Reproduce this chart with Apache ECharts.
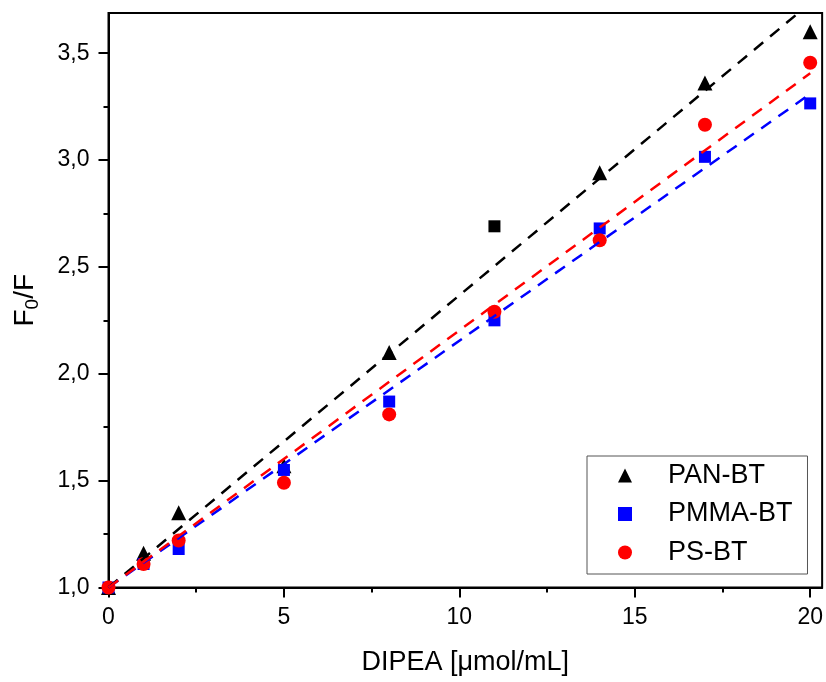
<!DOCTYPE html>
<html>
<head>
<meta charset="utf-8">
<script src="https://cdn.jsdelivr.net/npm/echarts@6/dist/echarts.min.js"></script>
<style>
  html, body { margin: 0; padding: 0; background: #fff; }
  #chart { width: 826px; height: 682px; }
</style>
</head>
<body>
<div id="chart"></div>
<script>
// DIPEA concentration [µmol/mL]
const dipea = [0, 1, 2, 5, 8, 11, 14, 17, 20];

// Quenching ratio F0/F for each sensor film
const panBT  = [1.00, 1.16, 1.35, 1.57, 2.10, 2.69, 2.94, 3.36, 3.60];
const pmmaBT = [1.00, 1.11, 1.18, 1.55, 1.87, 2.25, 2.68, 3.015, 3.265];
const psBT   = [1.00, 1.11, 1.22, 1.49, 1.81, 2.29, 2.625, 3.165, 3.455];

// Tick positions
const xMajorTicks = [0, 5, 10, 15, 20];
const xMinorTicks = [2.5, 7.5, 12.5, 17.5];
const yMajorTicks = [1.0, 1.5, 2.0, 2.5, 3.0, 3.5];
const yMinorTicks = [1.25, 1.75, 2.25, 2.75, 3.25];

const FONT = '"Liberation Sans", Arial, sans-serif';

// Stern–Volmer fit through (0, 1): F0/F = 1 + K·[Q]
function svLine(ys) {
  let sxy = 0, sxx = 0;
  dipea.forEach((x, i) => { sxy += x * (ys[i] - 1); sxx += x * x; });
  const k = sxy / sxx;
  return [[0, 1], [20, 1 + 20 * k]];
}

function pts(ys) { return dipea.map((x, i) => [x, ys[i]]); }

// PAN-BT: the point at 11 µmol/mL is plotted with a square marker
const panPts = pts(panBT).map((p, i) =>
  dipea[i] === 11 ? { value: p, symbol: 'rect', symbolSize: 12 } : p);

const xRange = { min: 0, max: 20.34 };
const yRange = { min: 1.0, max: 3.688 };

const chart = echarts.init(document.getElementById('chart'), null, { renderer: 'canvas' });

chart.setOption({
  animation: false,
  backgroundColor: '#fff',
  grid: {
    left: 108.5, right: 3.5, top: 13, bottom: 94.5,
    show: true, borderColor: '#000', borderWidth: 2, backgroundColor: 'transparent'
  },
  legend: {
    data: ['PAN-BT', 'PMMA-BT', 'PS-BT'],
    orient: 'vertical',
    left: 587, top: 456,
    padding: [6, 15, 8, 31],
    itemWidth: 14, itemHeight: 14, itemGap: 11.5,
    backgroundColor: '#fff',
    borderColor: '#555', borderWidth: 1, borderRadius: 0,
    textStyle: { fontFamily: FONT, fontSize: 27, color: '#000', padding: [0, 0, 0, 31] }
  },
  xAxis: [
    {
      type: 'value', ...xRange,
      name: 'DIPEA [\u03bcmol/mL]', nameLocation: 'middle', nameGap: 62,
      nameTextStyle: { fontFamily: FONT, fontSize: 27, color: '#000' },
      axisLine: { show: true, lineStyle: { color: '#000', width: 2 } },
      axisTick: { show: true, length: 10, lineStyle: { color: '#000', width: 2 }, customValues: xMajorTicks },
      axisLabel: { show: true, customValues: xMajorTicks, margin: 19,
                   fontFamily: FONT, fontSize: 23, color: '#000' },
      splitLine: { show: false }
    },
    {
      type: 'value', ...xRange, position: 'bottom',
      axisLine: { show: false },
      axisTick: { show: true, length: 5, lineStyle: { color: '#000', width: 2 }, customValues: xMinorTicks },
      axisLabel: { show: false },
      splitLine: { show: false }
    }
  ],
  yAxis: [
    {
      type: 'value', ...yRange,
      name: '{a|F}{s|0}{a|/F}', nameLocation: 'middle', nameGap: 66, nameRotate: 90,
      nameTextStyle: {
        fontFamily: FONT, fontSize: 28, color: '#000',
        rich: {
          a: { fontFamily: FONT, fontSize: 28, color: '#000' },
          s: { fontFamily: FONT, fontSize: 19, color: '#000', padding: [16, 0, 0, 0] }
        }
      },
      axisLine: { show: true, lineStyle: { color: '#000', width: 2 } },
      axisTick: { show: true, length: 10, lineStyle: { color: '#000', width: 2 }, customValues: yMajorTicks },
      axisLabel: { show: true, customValues: yMajorTicks, margin: 19,
                   fontFamily: FONT, fontSize: 23, color: '#000',
                   formatter: v => v.toFixed(1).replace('.', ',') },
      splitLine: { show: false }
    },
    {
      type: 'value', ...yRange, position: 'left',
      axisLine: { show: false },
      axisTick: { show: true, length: 5, lineStyle: { color: '#000', width: 2 }, customValues: yMinorTicks },
      axisLabel: { show: false },
      splitLine: { show: false }
    }
  ],
  series: [
    { name: 'PAN-BT', type: 'scatter', symbol: 'triangle', symbolSize: 15,
      itemStyle: { color: '#000', opacity: 1 }, data: panPts, z: 2 },
    { name: 'PMMA-BT', type: 'scatter', symbol: 'rect', symbolSize: 12,
      itemStyle: { color: '#0000ff', opacity: 1 }, data: pts(pmmaBT), z: 2 },
    { name: 'PS-BT', type: 'scatter', symbol: 'circle', symbolSize: 14,
      itemStyle: { color: '#ff0000', opacity: 1 }, data: pts(psBT), z: 2 },

    { name: 'PAN-BT fit', type: 'line', showSymbol: false, symbol: 'none', clip: true,
      lineStyle: { color: '#000', width: 2.5, type: [12, 9] }, data: svLine(panBT), z: 3 },
    { name: 'PMMA-BT fit', type: 'line', showSymbol: false, symbol: 'none', clip: true,
      lineStyle: { color: '#0000ff', width: 2.5, type: [12, 9] }, data: svLine(pmmaBT), z: 3 },
    { name: 'PS-BT fit', type: 'line', showSymbol: false, symbol: 'none', clip: true,
      lineStyle: { color: '#ff0000', width: 2.5, type: [12, 9] }, data: svLine(psBT), z: 3 }
  ]
});
</script>
</body>
</html>
